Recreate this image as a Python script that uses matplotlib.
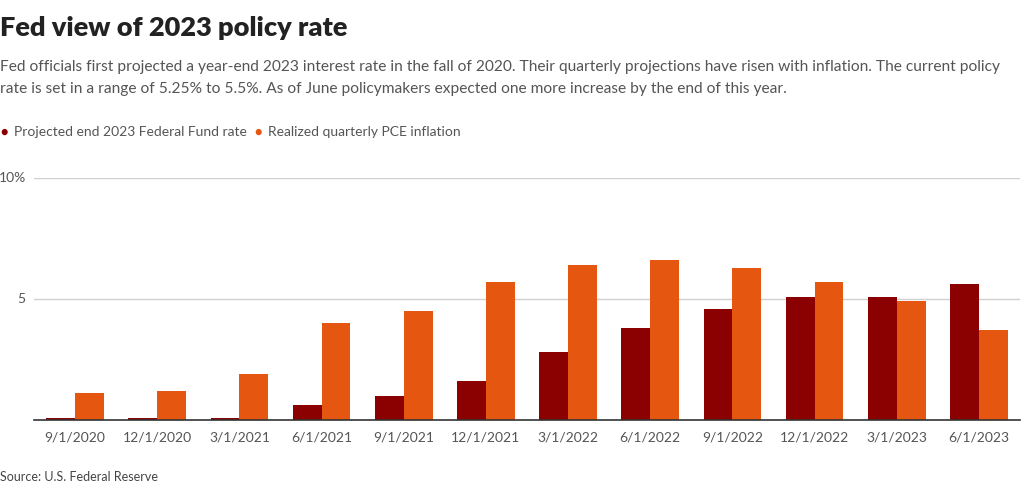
import matplotlib.pyplot as plt
import numpy as np

plt.rcParams['font.family'] = ['Lato', 'DejaVu Sans']

dates = ['9/1/2020', '12/1/2020', '3/1/2021', '6/1/2021', '9/1/2021', '12/1/2021',
         '3/1/2022', '6/1/2022', '9/1/2022', '12/1/2022', '3/1/2023', '6/1/2023']
projected_rate = [0.1, 0.1, 0.1, 0.6, 1.0, 1.6, 2.8, 3.8, 4.6, 5.1, 5.1, 5.6]
pce_inflation = [1.1, 1.2, 1.9, 4.0, 4.5, 5.7, 6.4, 6.6, 6.3, 5.7, 4.9, 3.7]

dark_red = '#8b0000'
orange = '#e55711'

fig = plt.figure(figsize=(10.24, 4.88), dpi=100)
ax = fig.add_axes([34 / 1024, 68 / 488, 986 / 1024, 242 / 488])

x = np.arange(len(dates))
w = 0.35
ax.bar(x - w / 2, projected_rate, width=w, color=dark_red, zorder=3)
ax.bar(x + w / 2, pce_inflation, width=w, color=orange, zorder=3)

ax.set_xlim(-0.5, len(dates) - 0.5)
ax.set_ylim(0, 10)
ax.set_yticks([5, 10])
ax.set_yticklabels(['5', '10%'])
ax.grid(axis='y', color='#d0d0d0', linewidth=1, zorder=0)
ax.set_xticks(x)
ax.set_xticklabels(dates)
ax.tick_params(axis='both', length=0, labelsize=10, colors='#555555')
ax.tick_params(axis='x', pad=8)
ax.tick_params(axis='y', pad=6)
for s in ['top', 'right', 'left']:
    ax.spines[s].set_visible(False)
ax.spines['bottom'].set_color('#333333')
ax.spines['bottom'].set_linewidth(1.2)
ax.spines['bottom'].set_zorder(4)
for lbl in ax.get_yticklabels():
    lbl.set_verticalalignment('center')

# title / subtitle
fig.text(0.0, 1 - 28 / 488, 'Fed view of 2023 policy rate', fontsize=19.5, fontweight='heavy',
         color='#222222', va='center', ha='left')
fig.text(0.0, 1 - 67 / 488,
         'Fed officials first projected a year-end 2023 interest rate in the fall of 2020. '
         'Their quarterly projections have risen with inflation. The current policy',
         fontsize=11.15, color='#555555', va='center', ha='left')
fig.text(0.0, 1 - 89 / 488,
         'rate is set in a range of 5.25% to 5.5%. As of June policymakers expected one more '
         'increase by the end of this year.',
         fontsize=11.15, color='#555555', va='center', ha='left')

# legend
fig.text(0.0, 1 - 132 / 488, '\u25cf', fontsize=9, color=dark_red, va='center', ha='left')
fig.text(14 / 1024, 1 - 132 / 488, 'Projected end 2023 Federal Fund rate', fontsize=10,
         color='#555555', va='center', ha='left')
fig.text(254 / 1024, 1 - 132 / 488, '\u25cf', fontsize=9, color=orange, va='center', ha='left')
fig.text(268 / 1024, 1 - 132 / 488, 'Realized quarterly PCE inflation', fontsize=10,
         color='#555555', va='center', ha='left')

fig.text(0.0, 1 - 477 / 488, 'Source: U.S. Federal Reserve', fontsize=9, color='#444444',
         va='center', ha='left')

fig.savefig('out.png', dpi=100)
